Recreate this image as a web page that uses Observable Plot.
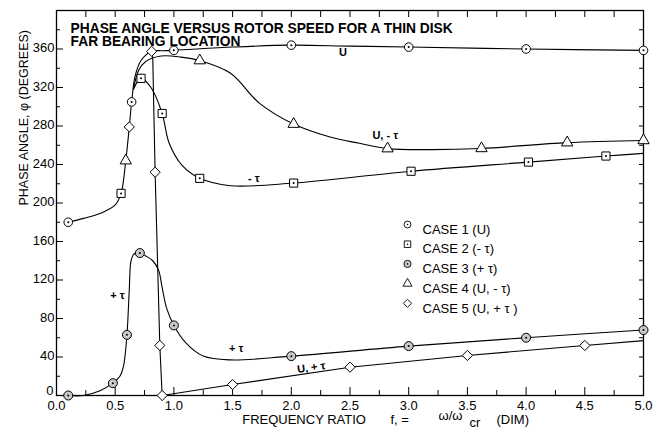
<!DOCTYPE html>
<html><head><meta charset="utf-8">
<script src="https://cdn.jsdelivr.net/npm/d3@7"></script>
<script src="https://cdn.jsdelivr.net/npm/@observablehq/plot@0.6"></script>
<style>
body{margin:0;background:#fff;}
#chart{width:655px;height:434px;}
svg{font-family:"Liberation Sans",Arial,sans-serif;}
</style></head><body><div id="chart"></div>
<script>
// ---- legend / case names ----
const caseLabels = ["CASE 1 (U)", "CASE 2 (- τ)", "CASE 3 (+ τ)", "CASE 4 (U, - τ)", "CASE 5 (U, + τ )"];
const caseSymbols = ["circle", "square", "circle", "triangle", "diamond2"];

// ---- measured markers (frequency ratio, phase angle in degrees) ----
const case1Freq  = [0.1, 0.64, 1.0, 2.0, 3.0, 4.0, 5.0];
const case1Phase = [180, 305, 358.6, 364, 362, 360, 358.6];
const case2Freq  = [0.55, 0.72, 0.9, 1.22, 2.02, 3.02, 4.02, 4.68];
const case2Phase = [210, 329.5, 293, 225.6, 220.7, 233, 242.5, 248.8];
const case3Freq  = [0.1, 0.48, 0.6, 0.71, 1.0, 2.0, 3.0, 4.0, 5.0];
const case3Phase = [0, 12.8, 63, 148, 72.8, 40.9, 51.3, 60, 68];
const case4Freq  = [0.59, 1.22, 2.02, 2.82, 3.62, 4.35, 5.0];
const case4Phase = [244, 348, 282, 256.5, 256.7, 262.7, 265];
const case5Freq  = [0.62, 0.81, 0.84, 0.88, 0.9, 1.5, 2.5, 3.5, 4.5];
const case5Phase = [279, 357.6, 232, 52, 0, 11.4, 29.4, 41.6, 52];

// ---- faired curves ----
const curve1Freq  = [0.1, 0.23, 0.37, 0.5, 0.55, 0.59, 0.62, 0.64, 0.67, 0.72, 0.81, 0.9, 1.0, 1.5, 2.0, 2.5, 3.0, 4.0, 5.0];
const curve1Phase = [180, 184, 189, 198, 210, 244, 279, 305, 332, 348, 357.6, 358.2, 358.6, 362, 364, 363, 362, 360, 358.6];
const curve2Freq  = [0.655, 0.72, 0.81, 0.9, 0.96, 1.07, 1.22, 1.48, 2.02, 3.02, 4.02, 4.68, 5.0];
const curve2Phase = [318, 329.5, 319, 293, 262, 239, 225.6, 218, 220.7, 233, 242.5, 248.8, 251.6];
const curve3Freq  = [0.1, 0.23, 0.37, 0.48, 0.54, 0.57, 0.6, 0.62, 0.635, 0.66, 0.71, 0.76, 0.82, 0.87, 0.9, 0.94, 1.0, 1.1, 1.25, 1.48, 2.0, 3.0, 4.0, 5.0];
const curve3Phase = [0, 0, 5, 12.8, 20, 30, 63, 110, 140, 147, 148, 145, 140, 130, 112, 90, 72.8, 55, 41, 37, 40.9, 51.3, 60, 68];
const curve4Freq  = [0.655, 0.7, 0.76, 0.89, 1.06, 1.22, 1.48, 1.73, 2.02, 2.33, 2.58, 2.82, 3.2, 3.62, 4.35, 5.0];
const curve4Phase = [318, 338, 347, 352.7, 351.6, 348, 335, 303.5, 282, 268.5, 262, 256.5, 255.5, 256.7, 262.7, 265];
const curve5Freq  = [0.81, 0.82, 0.84, 0.88, 0.9, 1.5, 2.5, 3.5, 4.5, 5.0];
const curve5Phase = [357.6, 350, 232, 52, 0, 11.4, 29.4, 41.6, 52, 57];

// ---- curve annotations ----
const noteText  = ["U", "- τ", "U, - τ", "+ τ", "+ τ", "U, + τ"];
const noteFreq  = [2.44, 1.68, 2.8, 0.52, 1.53, 2.17];
const notePhase = [356.5, 226, 270, 104, 48.5, 29];
const noteTilt  = [0, 0, 0, 0, 0, -8];

const yLabelTicks = [40, 80, 120, 160, 200, 240, 280, 320, 360];
const yZeroTick = [0];
const xLabelTicks = [0, 0.5, 1, 1.5, 2, 2.5, 3, 3.5, 4, 4.5, 5];

const zip = (f, p) => f.map((x, i) => ({f: x, phase: p[i]}));
const markers = [zip(case1Freq, case1Phase), zip(case2Freq, case2Phase), zip(case3Freq, case3Phase), zip(case4Freq, case4Phase), zip(case5Freq, case5Phase)];
const curves = [zip(curve1Freq, curve1Phase), zip(curve2Freq, curve2Phase), zip(curve3Freq, curve3Phase), zip(curve4Freq, curve4Phase), zip(curve5Freq, curve5Phase)];
const notes = noteText.map((t, i) => ({t, f: noteFreq[i], phase: notePhase[i], tilt: noteTilt[i]}));

const symR = [4.3, 4.6, 4.5, 4.2, 4.6];
const symFill = ["white", "white", "#c8c8c8", "white", "white"];
const dotInside = [true, true, true, false, false];

const marks = [];
// axes: labels
marks.push(Plot.axisY({ticks: yLabelTicks, tickSize: 0, tickPadding: 2, fontSize: 13, dy: -1, label: null}));
marks.push(Plot.axisY({ticks: yZeroTick, tickSize: 0, tickPadding: 3, fontSize: 13, dy: -5, label: null}));
marks.push(Plot.axisX({ticks: xLabelTicks, tickSize: 0, tickPadding: 5, fontSize: 13, tickFormat: d3.format(".1f"), label: null}));
// inward ticks
marks.push(Plot.axisY({ticks: d3.range(0, 400, 40), tickSize: -7, fill: "none"}));
marks.push(Plot.axisY({ticks: d3.range(20, 400, 40), tickSize: -4, fill: "none"}));
marks.push(Plot.axisY({anchor: "right", ticks: d3.range(20, 400, 20), tickSize: -5, fill: "none"}));
marks.push(Plot.axisX({ticks: d3.range(0.5, 5, 0.5), tickSize: -8, fill: "none"}));
marks.push(Plot.axisX({ticks: d3.range(0.25, 5, 0.5), tickSize: -5, fill: "none"}));
marks.push(Plot.axisX({anchor: "top", ticks: d3.range(0.25, 5, 0.25), tickSize: -6, fill: "none"}));
marks.push(Plot.frame({stroke: "black", strokeWidth: 1.3}));

// curves
curves.forEach((c, i) => {
  marks.push(Plot.line(c, {x: "f", y: "phase", stroke: "black", strokeWidth: 1.1, curve: i === 4 ? "linear" : "catmull-rom"}));
});
// markers
markers.forEach((m, i) => {
  marks.push(Plot.dot(m, {x: "f", y: "phase", symbol: caseSymbols[i], r: symR[i], fill: symFill[i], stroke: "black", strokeWidth: 1}));
  if (dotInside[i]) marks.push(Plot.dot(m, {x: "f", y: "phase", r: 1, fill: "black"}));
});

// annotations
marks.push(Plot.text(notes, {x: "f", y: "phase", text: "t", rotate: "tilt", fontSize: 11, fontWeight: "bold"}));

// legend
const legX = 351, legY0 = 214, legStep = 19.7;
caseLabels.forEach((lab, i) => {
  marks.push(Plot.dot([lab], {frameAnchor: "top-left", dx: legX, dy: legY0 + i * legStep, symbol: caseSymbols[i], r: symR[i] * 0.8, fill: symFill[i], stroke: "black", strokeWidth: 0.9}));
  if (dotInside[i]) marks.push(Plot.dot([lab], {frameAnchor: "top-left", dx: legX, dy: legY0 + i * legStep, r: 0.8, fill: "black"}));
  marks.push(Plot.text([lab], {frameAnchor: "top-left", dx: legX + 15, dy: legY0 + i * legStep, text: d => d, textAnchor: "start", fontSize: 13}));
});

// title
marks.push(Plot.text(["PHASE ANGLE VERSUS ROTOR SPEED FOR A THIN DISK"], {frameAnchor: "top-left", dx: 14, dy: 12.5, text: d => d, textAnchor: "start", fontSize: 13.8, fontWeight: "bold"}));
marks.push(Plot.text(["FAR BEARING LOCATION"], {frameAnchor: "top-left", dx: 14, dy: 26, text: d => d, textAnchor: "start", fontSize: 13.8, fontWeight: "bold"}));

// y label
marks.push(Plot.text(["PHASE ANGLE, φ (DEGREES)"], {frameAnchor: "left", dx: -33, dy: 2.5, rotate: -90, text: d => d, fontSize: 12.5}));
// x label pieces
marks.push(Plot.text(["FREQUENCY RATIO"], {frameAnchor: "bottom-left", dx: 185.7, dy: 28, text: d => d, textAnchor: "start", fontSize: 13}));
marks.push(Plot.text(["f, ="], {frameAnchor: "bottom-left", dx: 334, dy: 28, text: d => d, textAnchor: "start", fontSize: 13}));
marks.push(Plot.text(["ω/ω"], {frameAnchor: "bottom-left", dx: 382, dy: 24.5, text: d => d, textAnchor: "start", fontSize: 13}));
marks.push(Plot.text(["cr"], {frameAnchor: "bottom-left", dx: 413, dy: 31, text: d => d, textAnchor: "start", fontSize: 13}));
marks.push(Plot.text(["(DIM)"], {frameAnchor: "bottom-left", dx: 440, dy: 28, text: d => d, textAnchor: "start", fontSize: 13}));

const chart = Plot.plot({
  width: 655, height: 434,
  marginLeft: 56, marginRight: 12, marginTop: 10, marginBottom: 39,
  x: {domain: [0, 5]},
  y: {domain: [0, 400]},
  style: {fontFamily: "Liberation Sans, Arial, sans-serif", color: "black", background: "white"},
  marks
});
document.getElementById("chart").appendChild(chart);
</script></body></html>
